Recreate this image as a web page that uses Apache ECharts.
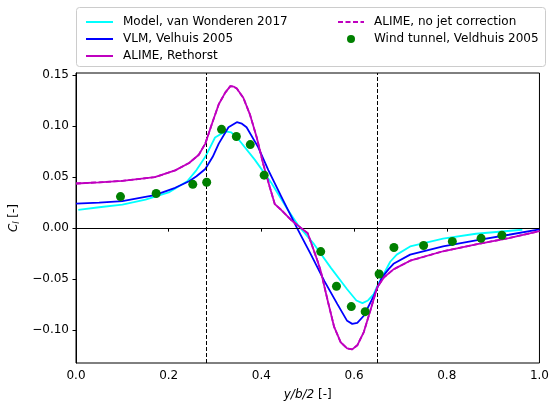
<!DOCTYPE html>
<html>
<head>
<meta charset="utf-8">
<script src="https://cdn.jsdelivr.net/npm/echarts@6/dist/echarts.min.js"></script>
<style>html,body{margin:0;padding:0;background:#fff;}#c{width:552px;height:406px;}</style>
</head>
<body>
<div id="c"></div>
<script>
// ---- data ----
const modelX = [0.005,0.05,0.10,0.15,0.20,0.24,0.26,0.279,0.30,0.322,0.335,0.350,0.386,0.422,0.457,0.479,0.514,0.550,0.585,0.605,0.618,0.630,0.642,0.652,0.664,0.678,0.692,0.721,0.792,0.863,0.963];
const modelY = [0.018,0.0205,0.023,0.028,0.035,0.046,0.057,0.070,0.089,0.095,0.094,0.0875,0.067,0.044,0.018,0.003,-0.016,-0.039,-0.060,-0.071,-0.0736,-0.071,-0.065,-0.055,-0.045,-0.033,-0.026,-0.018,-0.0104,-0.0055,-0.0016];

const vlmX = [0.0,0.05,0.10,0.17,0.214,0.244,0.26,0.279,0.295,0.308,0.329,0.347,0.358,0.368,0.393,0.415,0.443,0.477,0.507,0.536,0.564,0.585,0.596,0.607,0.621,0.643,0.660,0.675,0.685,0.721,0.792,0.863,0.934,1.0];
const vlmY = [0.024,0.025,0.0266,0.0324,0.0396,0.046,0.051,0.058,0.070,0.083,0.099,0.104,0.1025,0.099,0.0795,0.057,0.031,0.0,-0.026,-0.052,-0.0746,-0.091,-0.094,-0.093,-0.086,-0.066,-0.0486,-0.040,-0.035,-0.026,-0.0178,-0.012,-0.0065,-0.0012];

const alimeX = [0.0,0.05,0.10,0.17,0.214,0.244,0.265,0.279,0.293,0.308,0.322,0.333,0.340,0.347,0.361,0.375,0.390,0.404,0.418,0.429,0.443,0.464,0.486,0.500,0.507,0.521,0.528,0.543,0.557,0.571,0.585,0.596,0.607,0.621,0.635,0.650,0.664,0.685,0.721,0.792,0.863,0.934,1.0];
const alimeY = [0.0438,0.045,0.0464,0.050,0.0567,0.064,0.072,0.083,0.102,0.1216,0.133,0.1394,0.139,0.137,0.128,0.112,0.089,0.063,0.0405,0.0235,0.0178,0.008,0.0,-0.005,-0.014,-0.032,-0.042,-0.071,-0.097,-0.112,-0.118,-0.119,-0.115,-0.102,-0.081,-0.058,-0.0486,-0.0405,-0.032,-0.0227,-0.016,-0.0097,-0.003];

const noJetX = alimeX;
const noJetY = alimeY;

const windX = [0.096,0.173,0.252,0.282,0.314,0.346,0.376,0.406,0.528,0.562,0.594,0.624,0.654,0.686,0.750,0.812,0.874,0.919];
const windY = [0.031,0.034,0.043,0.045,0.097,0.090,0.082,0.052,-0.023,-0.057,-0.077,-0.082,-0.045,-0.019,-0.017,-0.013,-0.010,-0.007];

const jetEdges = [0.281, 0.646];
const yTicks = [-0.10,-0.05,0.00,0.05,0.10,0.15];
const names = ['Model, van Wonderen 2017','VLM, Velhuis 2005','ALIME, Rethorst','ALIME, no jet correction','Wind tunnel, Veldhuis 2005'];

const zip = (xs, ys) => xs.map((x, i) => [x, ys[i]]);
const FONT = 'DejaVu Sans';
const lineItem = n => ({name: n, itemStyle: {opacity: 0}});

const chart = echarts.init(document.getElementById('c'), null, {renderer: 'canvas'});
const legendCommon = {
  orient: 'vertical', itemWidth: 27, itemHeight: 8, itemGap: 3,
  textStyle: {fontFamily: FONT, fontSize: 12, color: '#000', lineHeight: 14, padding: [0,0,0,5]},
  selectedMode: false
};
chart.setOption({
  animation: false,
  backgroundColor: '#fff',
  textStyle: {fontFamily: FONT},
  graphic: [{
    type: 'rect', z: -1, silent: true,
    shape: {x: 76.5, y: 7.5, width: 469, height: 59, r: 3},
    style: {fill: '#fff', stroke: '#cccccc', lineWidth: 1}
  }],
  legend: [
    Object.assign({}, legendCommon, {left: 80, top: 10, data: names.slice(0, 3).map(lineItem)}),
    Object.assign({}, legendCommon, {left: 332, top: 10, itemWidth: 26,
      data: [lineItem(names[3]), {name: names[4], icon: 'circle', itemStyle: {opacity: 1}}]})
  ],
  grid: {left: 76, right: 8, top: 73, bottom: 40, show: true, borderColor: '#000', borderWidth: 1, backgroundColor: 'transparent'},
  xAxis: {
    type: 'value', min: 0, max: 1, interval: 0.2,
    name: '{i|y/b/2} [-]', nameLocation: 'middle', nameGap: 26,
    nameTextStyle: {fontFamily: FONT, fontSize: 12, color: '#000', rich: {i: {fontStyle: 'italic', fontFamily: FONT, fontSize: 12}}},
    axisLine: {lineStyle: {color: '#000', width: 1}},
    axisTick: {length: 3.5, lineStyle: {color: '#000'}},
    axisLabel: {color: '#000', fontSize: 12, fontFamily: FONT, margin: 7, formatter: v => v.toFixed(1)},
    splitLine: {show: false}
  },
  yAxis: {
    type: 'value', min: -0.1324, max: 0.1523,
    name: '{i|C}{s|l} [-]', nameLocation: 'middle', nameGap: 50, nameRotate: 90,
    nameTextStyle: {fontFamily: FONT, fontSize: 12, color: '#000',
      rich: {i: {fontStyle: 'italic', fontFamily: FONT, fontSize: 12}, s: {fontStyle: 'italic', fontFamily: FONT, fontSize: 8, verticalAlign: 'bottom', padding: [6,0,0,0]}}},
    axisLine: {lineStyle: {color: '#000', width: 1}},
    axisTick: {length: 3.5, lineStyle: {color: '#000'}, customValues: yTicks},
    axisLabel: {color: '#000', fontSize: 12, fontFamily: FONT, margin: 7, customValues: yTicks,
      formatter: v => v.toFixed(2).replace('-', '\u2212')},
    splitLine: {show: false}
  },
  series: [
    {name: names[0], type: 'line', data: zip(modelX, modelY), symbol: 'none', smooth: false,
      lineStyle: {color: '#00ffff', width: 1.8}, itemStyle: {color: '#00ffff'}, z: 3,
      markLine: {symbol: 'none', silent: true, label: {show: false},
        data: [
          {xAxis: jetEdges[0], lineStyle: {color: '#000', width: 1, type: [4, 2]}},
          {xAxis: jetEdges[1], lineStyle: {color: '#000', width: 1, type: [4, 2]}},
          {yAxis: 0, lineStyle: {color: '#000', width: 1, type: 'solid'}}
        ]}},
    {name: names[1], type: 'line', data: zip(vlmX, vlmY), symbol: 'none',
      lineStyle: {color: '#0000ff', width: 1.8}, itemStyle: {color: '#0000ff'}, z: 4},
    {name: names[3], type: 'line', data: zip(noJetX, noJetY), symbol: 'none',
      lineStyle: {color: '#bf00bf', width: 1.8, type: [5, 2.5]}, itemStyle: {color: '#bf00bf'}, z: 5},
    {name: names[2], type: 'line', data: zip(alimeX, alimeY), symbol: 'none',
      lineStyle: {color: '#bf00bf', width: 1.8}, itemStyle: {color: '#bf00bf'}, z: 6},
    {name: names[4], type: 'scatter', data: zip(windX, windY), symbol: 'circle', symbolSize: 9,
      itemStyle: {color: '#008000', opacity: 1}, z: 7}
  ]
});
</script>
</body>
</html>
